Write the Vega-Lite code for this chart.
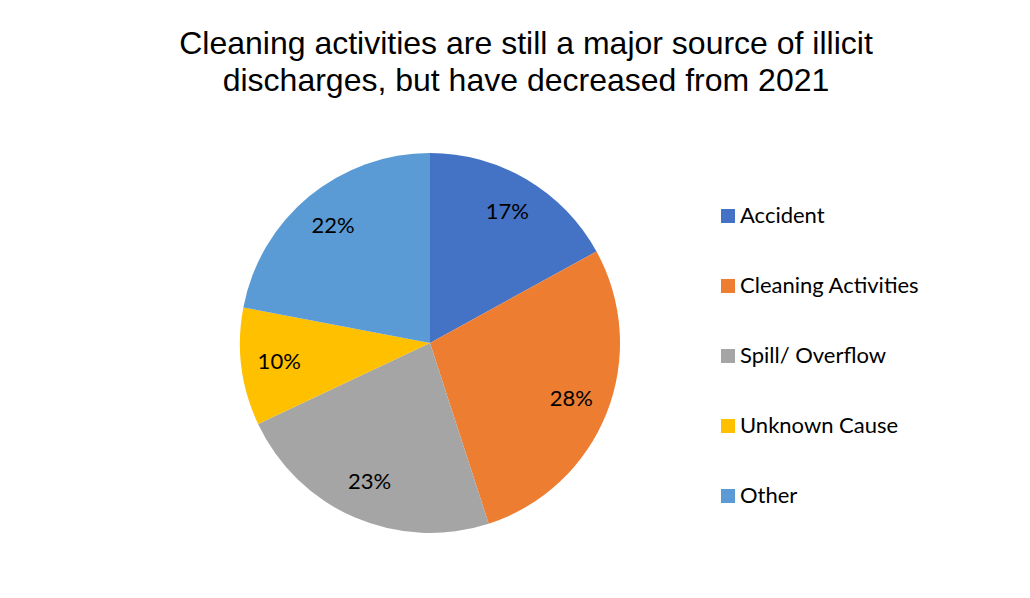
{
  "$schema": "https://vega.github.io/schema/vega-lite/v6.json",
  "width": 380,
  "height": 380,
  "autosize": {"type": "none"},
  "padding": {"left": 240, "top": 153, "right": 410, "bottom": 65},
  "background": "#ffffff",
  "title": {
    "text": ["Cleaning activities are still a major source of illicit", "discharges, but have decreased from 2021"],
    "font": "Liberation Sans",
    "fontSize": 32,
    "fontWeight": "normal",
    "color": "#000000",
    "anchor": "middle",
    "dx": 96,
    "offset": 55,
    "lineHeight": 37
  },
  "data": {
    "values": [
      {"cause": "Accident", "share": 0.17, "ord": 1},
      {"cause": "Cleaning Activities", "share": 0.28, "ord": 2},
      {"cause": "Spill/ Overflow", "share": 0.23, "ord": 3},
      {"cause": "Unknown Cause", "share": 0.10, "ord": 4},
      {"cause": "Other", "share": 0.22, "ord": 5}
    ]
  },
  "encoding": {
    "theta": {"field": "share", "type": "quantitative", "stack": true},
    "order": {"field": "ord", "type": "quantitative"}
  },
  "layer": [
    {
      "mark": {"type": "arc", "outerRadius": 190},
      "encoding": {
        "color": {
          "field": "cause",
          "type": "nominal",
          "scale": {
            "domain": ["Accident", "Cleaning Activities", "Spill/ Overflow", "Unknown Cause", "Other"],
            "range": ["#4472C4", "#ED7D31", "#A5A5A5", "#FFC000", "#5B9BD5"]
          },
          "legend": {
            "title": null,
            "orient": "none",
            "legendX": 477,
            "legendY": 52,
            "symbolType": "square",
            "symbolSize": 196,
            "symbolStrokeWidth": 0,
            "labelFont": "Lato",
            "labelFontSize": 22,
            "labelColor": "#000000",
            "labelOffset": 1,
            "labelLimit": 400,
            "rowPadding": 48
          }
        }
      }
    },
    {
      "mark": {"type": "text", "radius": 152, "font": "Lato", "fontSize": 22, "color": "#000000"},
      "encoding": {
        "detail": {"field": "cause", "type": "nominal"},
        "text": {"field": "share", "type": "quantitative", "format": ".0%"}
      }
    }
  ],
  "config": {"view": {"stroke": null}}
}
